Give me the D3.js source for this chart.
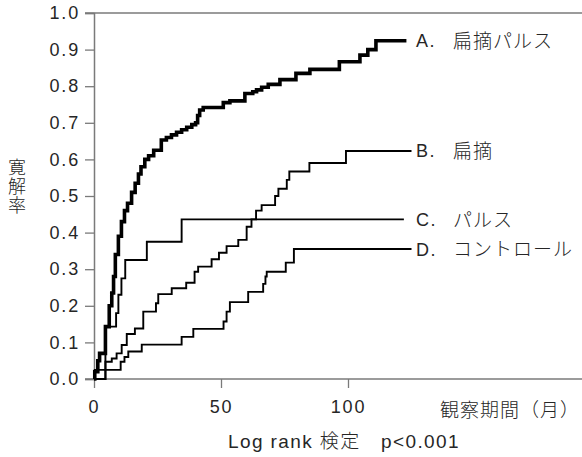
<!DOCTYPE html>
<html>
<head>
<meta charset="utf-8">
<script src="https://cdn.jsdelivr.net/npm/d3@7"></script>
<style>
  body { margin: 0; background: #fff; }
  svg { display: block; }
</style>
</head>
<body>
<svg id="chart"></svg>
<script>
// group labels
const groupLetters = ['A.', 'B.', 'C.', 'D.']
const groupNames = ['扁摘パルス', '扁摘', 'パルス', 'コントロール']

// step points (time in months, cumulative remission rate)
const timesA = [0, 0.3, 1.5, 2.2, 4.5, 6, 7, 7.7, 8.4, 9.6, 10.8, 12, 13.2, 14.8, 16.2, 17.5, 18.5, 20, 21.5, 23.5, 26.5, 28.5, 30.5, 32.5, 34.5, 36.5, 38.5, 40, 40.8, 41.6, 43, 50.9, 53.5, 59.4, 62.5, 64, 66, 68.6, 73.2, 79.5, 85, 96.6, 104.7, 107.8, 111]
const valuesA = [0, 0.02, 0.05, 0.07, 0.143, 0.2, 0.235, 0.28, 0.34, 0.39, 0.43, 0.46, 0.48, 0.51, 0.535, 0.56, 0.58, 0.6, 0.61, 0.625, 0.653, 0.66, 0.667, 0.674, 0.681, 0.688, 0.695, 0.7, 0.72, 0.735, 0.742, 0.755, 0.76, 0.78, 0.785, 0.79, 0.797, 0.805, 0.818, 0.835, 0.846, 0.867, 0.885, 0.9, 0.924]

const timesB = [0, 4.5, 7, 8.9, 10.9, 12.9, 16.1, 19.4, 24.4, 25.3, 30.6, 36.3, 39.6, 41, 46.3, 49.2, 52.2, 56.8, 60.1, 62, 63.8, 66, 71.3, 72.6, 75.9, 76.9, 84.8, 99.2]
const valuesB = [0, 0.047, 0.056, 0.07, 0.093, 0.123, 0.138, 0.184, 0.207, 0.232, 0.248, 0.263, 0.293, 0.307, 0.327, 0.345, 0.363, 0.38, 0.416, 0.436, 0.46, 0.475, 0.5, 0.52, 0.544, 0.567, 0.59, 0.623]

const timesC = [0, 4.5, 8.7, 9.6, 10.8, 12.3, 20.8, 34.5]
const valuesC = [0, 0.143, 0.18, 0.23, 0.275, 0.325, 0.375, 0.436]

const timesD = [0, 0.3, 10.5, 12, 13.5, 18.8, 34.5, 39.1, 51, 52.2, 53.5, 60.7, 66.6, 67.5, 68, 75.5, 78.7]
const valuesD = [0, 0.025, 0.047, 0.06, 0.075, 0.094, 0.115, 0.137, 0.157, 0.184, 0.21, 0.238, 0.26, 0.28, 0.293, 0.318, 0.355]

// last follow-up time of each group
const endTimes = [123, 125, 122, 125]

const xTicks = [0, 50, 100]
const yTicks = [0, 0.1, 0.2, 0.3, 0.4, 0.5, 0.6, 0.7, 0.8, 0.9, 1.0]
const xTitle = '観察期間（月）'
const yTitle = ['寛', '解', '率']
const testNote = 'Log rank 検定　p<0.001'

const width = 582
const height = 457
const margin = { top: 13, left: 94, bottom: 78 }
const axisColor = '#7a7a7a'
const textColor = '#262626'
const latinFont = '"Liberation Sans", Arial, sans-serif'
const cjkFont = '"Liberation Sans", "Noto Sans CJK JP", sans-serif'

const svg = d3.select('#chart')
  .attr('width', width)
  .attr('height', height)
  .attr('viewBox', `0 0 ${width} ${height}`)

const x = d3.scaleLinear().domain([0, 100]).range([margin.left, 348])
const y = d3.scaleLinear().domain([0, 1]).range([height - margin.bottom, margin.top])

// y axis
const yAxisG = svg.append('g')
  .attr('transform', `translate(${margin.left},0)`)
  .call(d3.axisLeft(y).tickValues(yTicks).tickFormat(d3.format('.1f')).tickSize(9).tickPadding(5))
yAxisG.select('.domain').attr('stroke', axisColor).attr('stroke-width', 1.5)
yAxisG.selectAll('.tick line').attr('stroke', axisColor).attr('stroke-width', 1.3)
yAxisG.selectAll('.tick text')
  .attr('fill', textColor)
  .style('font-family', latinFont)
  .style('font-size', '18px')
  .style('letter-spacing', '1.8px')

// x axis
const xAxisG = svg.append('g')
  .attr('transform', `translate(0,${y(0)})`)
  .call(d3.axisBottom(x).tickValues(xTicks).tickSize(9).tickPadding(12))
xAxisG.select('.domain').remove()
xAxisG.selectAll('.tick line').attr('stroke', axisColor).attr('stroke-width', 1.3)
xAxisG.selectAll('.tick text')
  .attr('fill', textColor)
  .style('font-family', latinFont)
  .style('font-size', '18px')
  .style('letter-spacing', '1.8px')

// baseline and top rule run to the right edge
svg.append('line')
  .attr('x1', margin.left - 9).attr('x2', width)
  .attr('y1', y(0)).attr('y2', y(0))
  .attr('stroke', axisColor).attr('stroke-width', 1.5)
svg.append('line')
  .attr('x1', margin.left - 9).attr('x2', width)
  .attr('y1', y(1)).attr('y2', y(1))
  .attr('stroke', axisColor).attr('stroke-width', 1.5)

// curves
const groups = [
  { times: timesA, values: valuesA, width: 3.6 },
  { times: timesB, values: valuesB, width: 1.9 },
  { times: timesC, values: valuesC, width: 1.9 },
  { times: timesD, values: valuesD, width: 1.9 }
]

const line = d3.line()
  .x((d) => x(d[0]))
  .y((d) => y(d[1]))
  .curve(d3.curveStepAfter)

groups.forEach((g, i) => {
  const pts = g.times.map((t, j) => [t, g.values[j]])
  pts.push([endTimes[i], g.values[g.values.length - 1]])
  svg.append('path')
    .attr('d', line(pts))
    .attr('fill', 'none')
    .attr('stroke', '#000')
    .attr('stroke-width', g.width)
    .attr('stroke-linejoin', 'miter')

  const ly = y(g.values[g.values.length - 1])
  svg.append('text')
    .attr('x', 416)
    .attr('y', ly)
    .attr('dy', '0.36em')
    .attr('fill', textColor)
    .style('font-family', latinFont)
    .style('font-size', '18px')
    .style('letter-spacing', '1.5px')
    .text(groupLetters[i])
  svg.append('text')
    .attr('x', 453)
    .attr('y', ly)
    .attr('dy', '0.38em')
    .attr('fill', textColor)
    .style('font-family', cjkFont)
    .style('font-size', '19px')
    .style('font-weight', 300)
    .style('letter-spacing', '1px')
    .text(groupNames[i])
})

// axis titles
svg.append('text')
  .attr('x', 580)
  .attr('y', y(0) + 38)
  .attr('text-anchor', 'end')
  .attr('fill', textColor)
  .style('font-family', cjkFont)
  .style('font-size', '19px')
  .style('font-weight', 300)
  .style('letter-spacing', '1px')
  .text(xTitle)

svg.append('text')
  .attr('x', 344)
  .attr('y', y(0) + 69)
  .attr('text-anchor', 'middle')
  .attr('fill', textColor)
  .style('font-family', cjkFont)
  .style('font-size', '19px')
  .style('font-weight', 300)
  .style('letter-spacing', '1.4px')
  .text(testNote)

svg.append('g')
  .selectAll('text')
  .data(yTitle)
  .join('text')
  .attr('x', 17)
  .attr('y', (d, i) => 174 + i * 19)
  .attr('text-anchor', 'middle')
  .attr('fill', textColor)
  .style('font-family', cjkFont)
  .style('font-size', '18px')
  .style('font-weight', 300)
  .text((d) => d)
</script>
</body>
</html>
